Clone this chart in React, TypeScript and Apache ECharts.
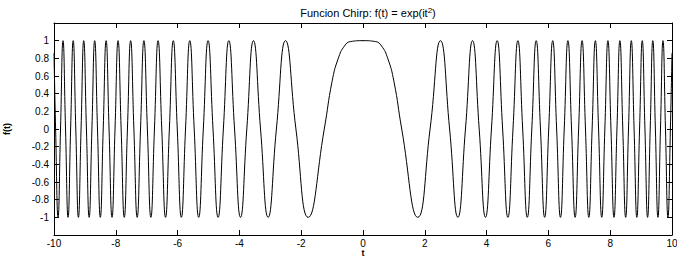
import React, { useEffect, useRef } from 'react';
import * as echarts from 'echarts';

// Positive half of the curve (the plot is symmetric about t = 0): t positions
const tHalf = [
  0, 0.4, 0.6, 0.8, 1.0, 1.2533,
  1.7725, 2.1708, 2.5066, 2.8025, 3.07, 3.316, 3.5449, 3.76, 3.9633, 4.1568,
  4.3416, 4.5189, 4.6895, 4.8541, 5.0132, 5.1676, 5.3174, 5.4631, 5.605, 5.7434,
  5.8786, 6.0107, 6.14, 6.2666, 6.3907, 6.5124, 6.6319, 6.7493, 6.8647, 6.9782,
  7.0898, 7.1997, 7.308, 7.4147, 7.5199, 7.6236, 7.726, 7.827, 7.9266, 8.0251,
  8.1224, 8.2185, 8.3135, 8.4075, 8.5004, 8.5923, 8.6832, 8.7732, 8.8622, 8.9505,
  9.0378, 9.1243, 9.2099, 9.2948, 9.3789, 9.4623, 9.545, 9.6269, 9.7081, 9.7887,
  9.8686, 9.9479, 10,
];
const fHalf = [
  1, 0.99, 0.94, 0.8, 0.54, 0,
  -1, 0, 1, 0, -1, 0, 1, 0, -1, 0,
  1, 0, -1, 0, 1, 0, -1, 0, 1, 0,
  -1, 0, 1, 0, -1, 0, 1, 0, -1, 0,
  1, 0, -1, 0, 1, 0, -1, 0, 1, 0,
  -1, 0, 1, 0, -1, 0, 1, 0, -1, 0,
  1, 0, -1, 0, 1, 0, -1, 0, 1, 0,
  -1, 0, 0.86,
];

const titleText = 'Funcion Chirp: f(t) = exp(it';
const titleSup = '2';
const xName = 't';
const yName = 'f(t)';
const xMin = -10, xMax = 10, xStep = 2;
const yMin = -1.2, yMax = 1.2, yStep = 0.2;

const FONT = "'Liberation Sans', Arial, Helvetica, sans-serif";

export default function App() {
  const ref = useRef<HTMLDivElement>(null);
  useEffect(() => {
    if (!ref.current) return;
    const chart = echarts.init(ref.current, undefined, { renderer: 'svg' });
    const data: number[][] = [];
    for (let i = tHalf.length - 1; i >= 1; i--) data.push([-tHalf[i], fHalf[i]]);
    for (let i = 0; i < tHalf.length; i++) data.push([tHalf[i], fHalf[i]]);

    const axisLine = { show: true, onZero: false, lineStyle: { color: '#000', width: 1 } };
    const tick = { show: true, inside: true, length: 5, lineStyle: { color: '#000', width: 1 } };
    const label = { color: '#000', fontSize: 10, fontFamily: FONT };

    chart.setOption({
      animation: false,
      backgroundColor: '#fff',
      title: {
        text: `{a|${titleText}}{s|${titleSup}}{a|)}`,
        left: 363,
        textAlign: 'center',
        top: 1,
        textStyle: {
          fontWeight: 'normal',
          rich: {
            a: { fontSize: 11, fontFamily: FONT, color: '#000', fontWeight: 'normal' },
            s: { fontSize: 8, fontFamily: FONT, color: '#000', fontWeight: 'normal', padding: [0, 0, 6, 0] },
          },
        },
      },
      graphic: [
        {
          type: 'text',
          x: 363,
          y: 253,
          style: {
            text: xName,
            fill: '#000',
            font: `bold 9px ${FONT}`,
            lineHeight: 8,
            align: 'center',
            verticalAlign: 'middle',
          },
        },
      ],
      grid: { left: 54, right: 5, top: 23, bottom: 23, containLabel: false, outerBoundsMode: 'none' },
      xAxis: [
        {
          type: 'value', min: xMin, max: xMax, interval: xStep,
          axisLine, axisTick: tick, splitLine: { show: false },
          axisLabel: { ...label, lineHeight: 9, margin: 4 },
        },
        {
          type: 'value', position: 'top', min: xMin, max: xMax, interval: xStep,
          axisLine, axisTick: tick, splitLine: { show: false },
          axisLabel: { show: false },
        },
      ],
      yAxis: [
        {
          type: 'value', min: yMin, max: yMax, interval: yStep,
          name: yName, nameLocation: 'middle', nameGap: 43,
          nameTextStyle: { color: '#000', fontSize: 9, fontFamily: FONT, fontWeight: 'bold' },
          axisLine, axisTick: tick, splitLine: { show: false },
          axisLabel: {
            ...label, margin: 5,
            formatter: (v: number) => (Math.abs(v) > 1.001 ? '' : String(+v.toFixed(1))),
          },
        },
        {
          type: 'value', position: 'right', min: yMin, max: yMax, interval: yStep,
          axisLine, axisTick: tick, splitLine: { show: false },
          axisLabel: { show: false },
        },
      ],
      series: [
        {
          type: 'line',
          data,
          xAxisIndex: 0,
          yAxisIndex: 0,
          showSymbol: false,
          smooth: 0.5,
          lineStyle: { color: '#000', width: 1 },
        },
      ],
    });
    return () => chart.dispose();
  }, []);
  return (
    <div
      ref={ref}
      style={{ position: 'fixed', left: 0, top: 0, width: 677, height: 258 }}
    />
  );
}
